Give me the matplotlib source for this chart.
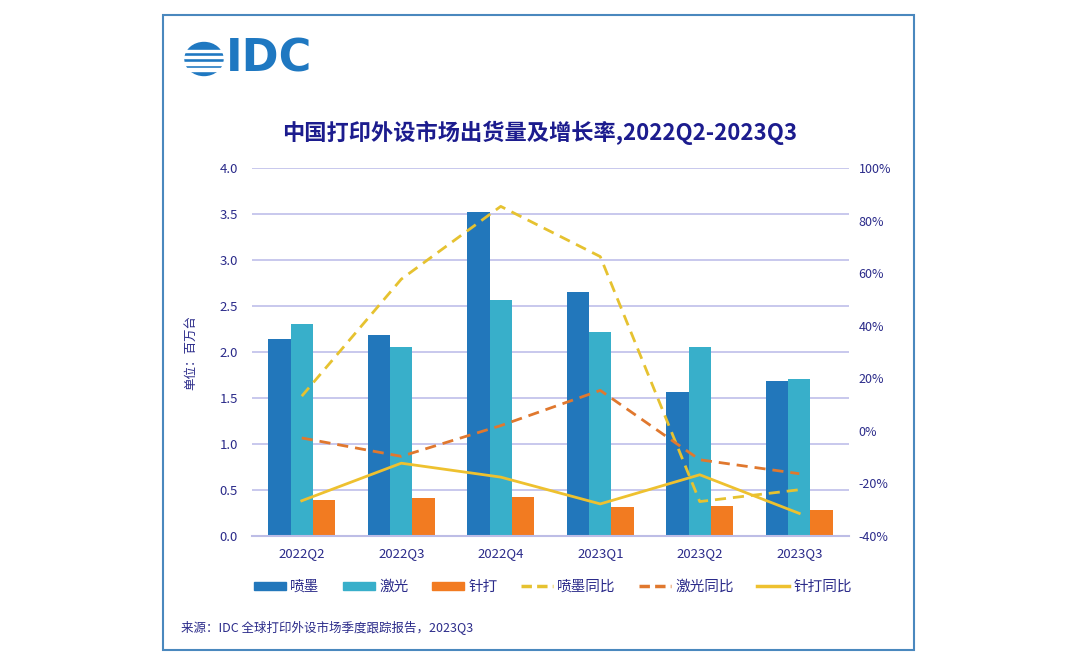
import matplotlib
matplotlib.use('Agg')
import matplotlib.pyplot as plt
import numpy as np
from matplotlib.patches import Rectangle, Ellipse
from matplotlib.lines import Line2D
from matplotlib.patches import Patch

plt.rcParams['font.family'] = ['Noto Sans CJK SC', 'DejaVu Sans']

# 数据（单位：百万台 / 同比%）
quarters = ['2022Q2', '2022Q3', '2022Q4', '2023Q1', '2023Q2', '2023Q3']
inkjet = [2.14, 2.18, 3.52, 2.65, 1.56, 1.68]
laser = [2.30, 2.05, 2.57, 2.22, 2.05, 1.71]
dotmatrix = [0.39, 0.41, 0.42, 0.31, 0.33, 0.28]
inkjet_yoy = [13.2, 57.7, 85.4, 66.3, -26.9, -22.4]
laser_yoy = [-2.7, -9.7, 2.0, 15.4, -11.0, -16.3]
dot_yoy = [-26.6, -12.3, -17.6, -27.8, -16.7, -31.4]
left_ticks = [0.0, 0.5, 1.0, 1.5, 2.0, 2.5, 3.0, 3.5, 4.0]
right_ticks = [-40, -20, 0, 20, 40, 60, 80, 100]

c_ink = '#2277BB'
c_laser = '#38AFCA'
c_dot = '#F27B21'
c_ink_l = '#E6C230'
c_laser_l = '#E0782E'
c_dot_l = '#EEC12F'
navy = '#2B2B8A'
grid_c = '#C4C4EC'

W, H = 1080, 660
fig = plt.figure(figsize=(W / 100, H / 100), dpi=100)
fig.patch.set_facecolor('white')

ax = fig.add_axes([252 / W, 1 - 536 / H, (849 - 252) / W, (536 - 168) / H])
x = np.arange(len(quarters))
bw = 0.223
ax.bar(x - bw, inkjet, bw, color=c_ink, zorder=2)
ax.bar(x, laser, bw, color=c_laser, zorder=2)
ax.bar(x + bw, dotmatrix, bw, color=c_dot, zorder=2)
ax.set_xlim(-0.5, len(quarters) - 0.5)
ax.set_ylim(0, 4)
ax.set_yticks(left_ticks)
ax.set_yticklabels(['%.1f' % v for v in left_ticks])
ax.set_xticks(x)
ax.set_xticklabels(quarters)
ax.grid(axis='y', color=grid_c, lw=1.3, zorder=0)
for s in ['top', 'left', 'right']:
    ax.spines[s].set_visible(False)
ax.spines['bottom'].set_color('#BDBDE6')
ax.spines['bottom'].set_linewidth(1.5)
ax.tick_params(axis='both', length=0, labelsize=9.5, labelcolor=navy)
ax.tick_params(axis='y', pad=10)
ax.tick_params(axis='x', pad=8)
ax.set_ylabel('单位：百万台', fontsize=9, color=navy, labelpad=16)

ax2 = ax.twinx()
ax2.plot(x, inkjet_yoy, color=c_ink_l, lw=2, ls=(0, (4, 2.5)))
ax2.plot(x, laser_yoy, color=c_laser_l, lw=2, ls=(0, (4, 2.5)))
ax2.plot(x, dot_yoy, color=c_dot_l, lw=2)
ax2.set_ylim(-40, 100)
ax2.set_yticks(right_ticks)
ax2.set_yticklabels(['%d%%' % v for v in right_ticks])
ax2.tick_params(axis='y', length=0, labelsize=9, labelcolor=navy, pad=7)
for s in ax2.spines.values():
    s.set_visible(False)

# 图例
handles = [
    Patch(color=c_ink), Patch(color=c_laser), Patch(color=c_dot),
    Line2D([], [], color=c_ink_l, lw=2.5, ls=(0, (3, 1.5))),
    Line2D([], [], color=c_laser_l, lw=2.5, ls=(0, (3, 1.5))),
    Line2D([], [], color=c_dot_l, lw=2.5),
]
labels = ['喷墨', '激光', '针打', '喷墨同比', '激光同比', '针打同比']
leg = fig.legend(handles, labels, loc='center', bbox_to_anchor=(553 / W, 1 - 587 / H),
                 ncol=6, frameon=False, fontsize=10.5, handlelength=2.2,
                 handleheight=0.5, handletextpad=0.3, columnspacing=1.6)
for t in leg.get_texts():
    t.set_color(navy)

# 标题与来源
fig.text(540 / W, 1 - 133 / H, '中国打印外设市场出货量及增长率,2022Q2-2023Q3',
         ha='center', va='center', fontsize=16, fontweight='bold', color='#1C1C8E')
fig.text(181 / W, 1 - 627 / H, '来源：IDC 全球打印外设市场季度跟踪报告，2023Q3',
         ha='left', va='center', fontsize=9, color=navy)

# 外框
fig.patches.append(Rectangle((163 / W, 1 - 650 / H), (914 - 163) / W, (650 - 15) / H,
                             transform=fig.transFigure, fill=False,
                             edgecolor='#4A88BE', lw=1.5))

# IDC 标志
blue_logo = '#1F78C1'
lax = fig.add_axes([184 / W, 1 - 77 / H, 40 / W, 36 / H])
lax.set_xlim(0, 40)
lax.set_ylim(0, 36)
lax.axis('off')
lax.add_patch(Ellipse((20, 18), 38, 33, color=blue_logo))
for yy in [6.0, 12.3, 18.6, 24.9]:
    lax.add_patch(Rectangle((0, yy), 40, 2.6, color='white'))
fig.text(226 / W, 1 - 59 / H, 'IDC', ha='left', va='center', fontsize=32,
         fontweight='bold', color=blue_logo, family='DejaVu Sans')

fig.savefig('out.png', dpi=100)
